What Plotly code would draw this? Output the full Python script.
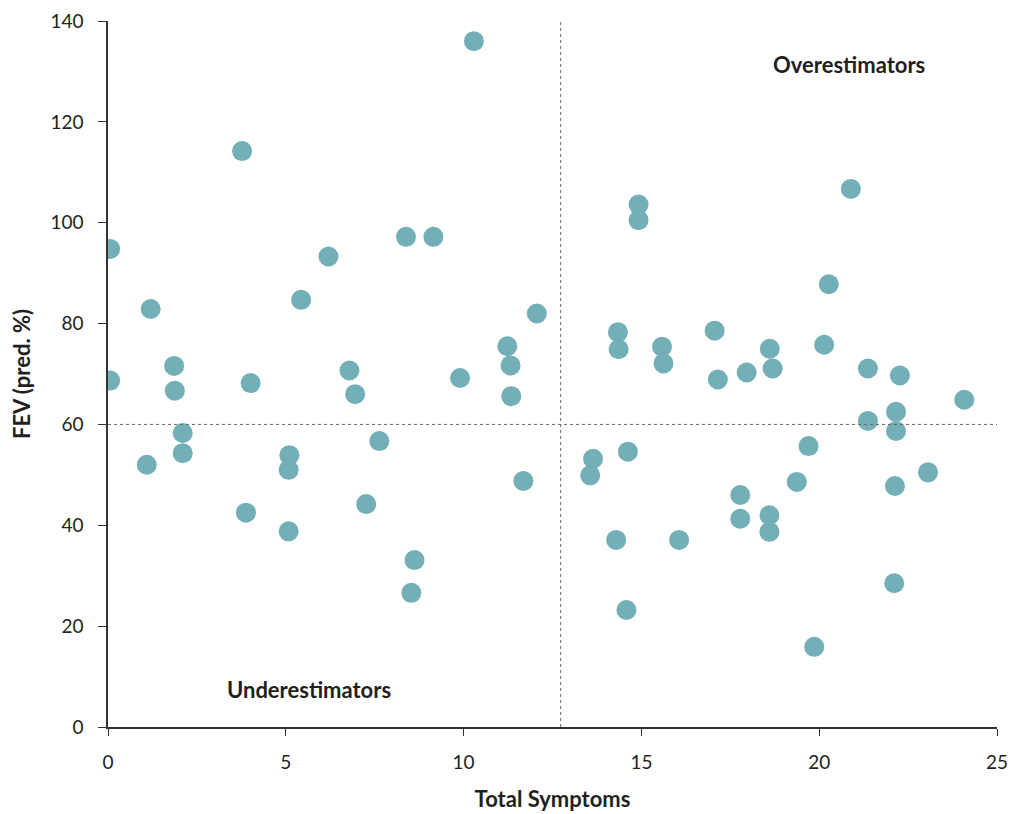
import plotly.graph_objects as go

total_symptoms = [
    0.06, 0.06, 1.2, 1.86, 1.88, 3.77, 4.01, 5.43, 6.2,
    1.09, 2.1, 2.1, 3.88, 5.1, 5.08, 5.08,
    10.29, 8.38, 9.15, 12.06, 11.23, 11.32,
    6.79, 6.95, 9.9, 11.34, 7.63, 7.26, 8.62, 8.53, 11.68,
    14.92, 14.92, 14.34, 14.36, 15.58, 15.62,
    13.64, 13.56, 14.62, 14.29, 14.58,
    20.89, 20.27, 17.06, 20.14, 18.61, 18.69, 17.96, 17.15, 21.37, 22.27, 24.08,
    21.37, 22.16, 22.16, 19.7, 19.37, 23.06, 22.13, 17.78, 17.78, 18.6, 18.6,
    16.06, 22.11, 19.86,
]
fev_pred = [
    94.8, 68.7, 82.9, 71.6, 66.7, 114.2, 68.2, 84.7, 93.3,
    52.0, 58.3, 54.3, 42.5, 53.9, 51.0, 38.8,
    136.0, 97.2, 97.2, 82.0, 75.5, 71.7,
    70.7, 66.0, 69.2, 65.6, 56.7, 44.2, 33.1, 26.6, 48.8,
    103.6, 100.5, 78.3, 74.9, 75.4, 72.1,
    53.2, 49.9, 54.6, 37.1, 23.2,
    106.7, 87.8, 78.6, 75.8, 75.0, 71.1, 70.3, 68.9, 71.1, 69.7, 64.9,
    60.7, 62.5, 58.7, 55.7, 48.6, 50.5, 47.8, 46.0, 41.3, 42.0, 38.7,
    37.1, 28.5, 15.9,
]

x_ticks = [0, 5, 10, 15, 20, 25]
y_ticks = [0, 20, 40, 60, 80, 100, 120, 140]
fev_threshold = 60
symptom_threshold = 12.73

quadrant_labels = ["Overestimators", "Underestimators"]
quadrant_x = [20.84, 5.65]
quadrant_y = [131.4, 7.5]

FONT = "Lato, 'Open Sans', sans-serif"

fig = go.Figure()
fig.add_trace(go.Scatter(
    x=total_symptoms, y=fev_pred, mode="markers",
    marker=dict(size=20, color="#72AFB6", line=dict(width=0)),
    showlegend=False, hoverinfo="x+y",
))

fig.add_shape(type="line", x0=0, x1=25, y0=fev_threshold, y1=fev_threshold,
              xref="x", yref="y", line=dict(color="#666666", width=1, dash="dot"))
fig.add_shape(type="line", x0=symptom_threshold, x1=symptom_threshold, y0=0, y1=140,
              xref="x", yref="y", line=dict(color="#666666", width=1, dash="dot"))

for lbl, lx, ly in zip(quadrant_labels, quadrant_x, quadrant_y):
    fig.add_annotation(x=lx, y=ly, text="<b>%s</b>" % lbl, showarrow=False,
                       font=dict(family=FONT, size=22, color="#231f20"))

fig.update_layout(
    width=1012, height=814,
    margin=dict(l=108, r=15, t=21, b=87),
    plot_bgcolor="white", paper_bgcolor="white",
    font=dict(family=FONT, size=18, color="#231f20"),
    xaxis=dict(
        range=[0, 25], tickvals=x_ticks, showgrid=False, zeroline=False,
        showline=True, linecolor="#333333", linewidth=1.5, automargin=False,
        ticks="outside", ticklen=7, tickcolor="#333333", ticklabelstandoff=10,
        title=dict(text="<b>Total Symptoms</b>", font=dict(size=22), standoff=20),
        tickfont=dict(size=19, color="#231f20"),
    ),
    yaxis=dict(
        range=[0, 140], tickvals=y_ticks, showgrid=False, zeroline=False,
        showline=True, linecolor="#333333", linewidth=1.5, automargin=False,
        ticks="outside", ticklen=8, tickcolor="#333333", ticklabelstandoff=11,
        title=dict(text="<b>FEV (pred. %)</b>", font=dict(size=22), standoff=14),
        tickfont=dict(size=19, color="#231f20"),
    ),
)

# remove the browser's default 8px body margin so the figure fills the window exactly
fig.write_html(
    "out.html",
    config={"displayModeBar": False},
    post_script="document.body.style.margin='0';document.body.style.overflow='hidden';",
)
